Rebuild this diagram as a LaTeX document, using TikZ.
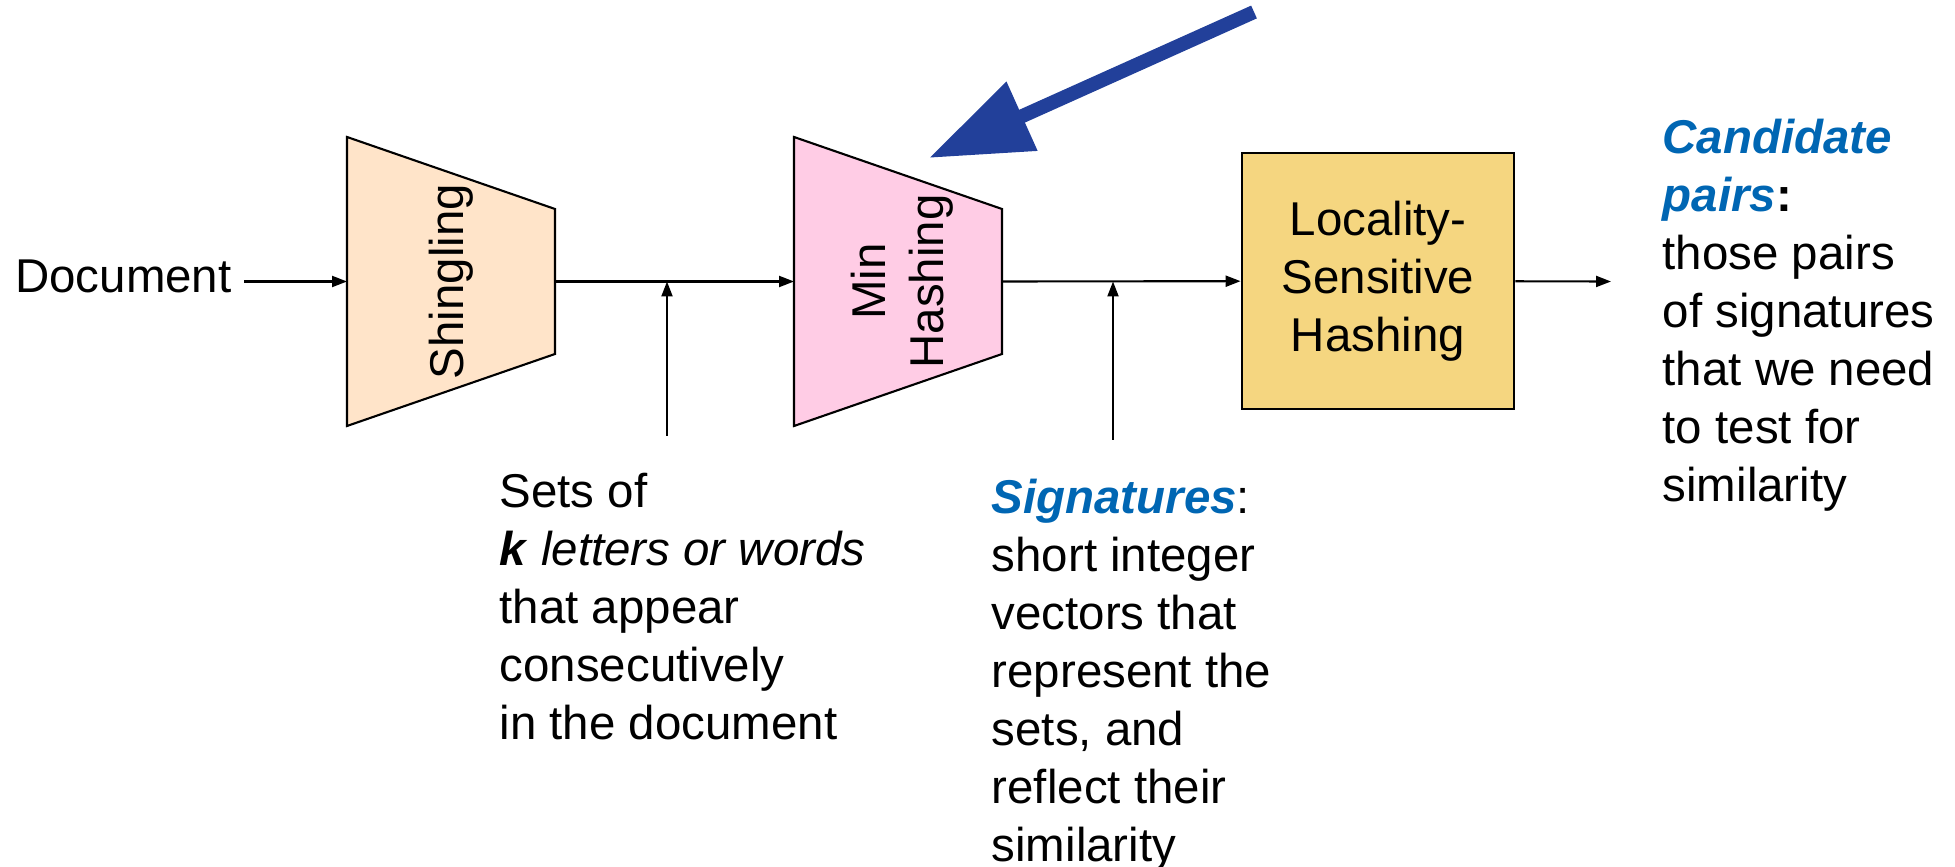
\documentclass[tikz,border=0pt]{standalone}
\usepackage{fontspec}
\setmainfont{Liberation Sans}
\usetikzlibrary{arrows.meta}
\definecolor{shinpeach}{HTML}{FFE4C9}
\definecolor{minpink}{HTML}{FFCCE5}
\definecolor{lshyellow}{HTML}{F5D680}
\definecolor{termblue}{HTML}{0066B3}
\definecolor{bigblue}{HTML}{22409A}
\newcommand{\keyterm}[1]{{\color{termblue}\bfseries\itshape #1}}
\begin{document}
\begin{tikzpicture}[
    every node/.style={font=\fontsize{13.5}{16.5}\selectfont},
    arr/.style={-{Triangle[length=1.5mm,width=1.1mm]}, line width=0.6pt},
    funnel/.style={draw, line width=0.6pt, line join=miter},
    note/.style={anchor=north west, inner sep=0pt, align=left}]
    \useasboundingbox (0,0) rectangle (19.55,8.66);
    \node (doc) at (2.44,5.90) [anchor=east] {Document};
    % the two funnels, long side facing the input
    \draw[funnel, fill=shinpeach] (3.47,4.40) -- ++(0,2.89) -- ++(2.08,-0.72) -- ++(0,-1.45) -- cycle;
    \draw[funnel, fill=minpink] (7.94,4.40) -- ++(0,2.89) -- ++(2.08,-0.72) -- ++(0,-1.45) -- cycle;
    \node (shin) at (4.51,5.845) [rotate=90] {Shingling};
    \node (minh) at (9.02,5.845) [rotate=90, align=center] {Min\\Hashing};
    \coordinate (shinin) at (3.47,5.845);
    \coordinate (shinout) at (5.55,5.845);
    \coordinate (minhin) at (7.94,5.845);
    \coordinate (minhout) at (10.02,5.845);
    \node (lsh) at (13.78,5.85) [draw, line width=0.8pt, fill=lshyellow, minimum width=2.72cm, minimum height=2.56cm, align=center] {Locality-\\Sensitive\\Hashing};
    \coordinate (setsfoot) at (6.67,4.30);
    \coordinate (sigsfoot) at (11.13,4.26);
    \coordinate (pairsin) at (16.11,5.845);
    \draw[arr] (doc.east |- shinin) -- (shinin);
    \draw[arr] (shinout) -- (minhin);
    \draw[arr] (minhout) -- (lsh);
    \draw[arr] (lsh) -- (pairsin);
    \draw[arr] (setsfoot) -- (setsfoot |- shinout);
    \draw[arr] (sigsfoot) -- (sigsfoot |- minhout);
    \node (sets) at (4.99,3.94) [note] {Sets of\\\textbf{\textit{k}} \textit{letters or words}\\that appear\\consecutively\\in the document};
    \node (sigs) at (9.91,3.88) [note] {\keyterm{Signatures}:\\short integer\\vectors that\\represent the\\sets, and\\reflect their\\similarity};
    \node (cands) at (16.62,7.48) [note] {\keyterm{Candidate}\\\keyterm{pairs}\textbf{:}\\those pairs\\of signatures\\that we need\\to test for\\similarity};
    % callout pointing at min hashing
    \coordinate (calloutstart) at (12.54,8.54);
    \coordinate (callouttip) at (9.29,7.08);
    \draw[bigblue, line width=0.14cm, -{Triangle[length=10.2mm,width=7.2mm]}] (calloutstart) -- (callouttip);
\end{tikzpicture}
\end{document}
